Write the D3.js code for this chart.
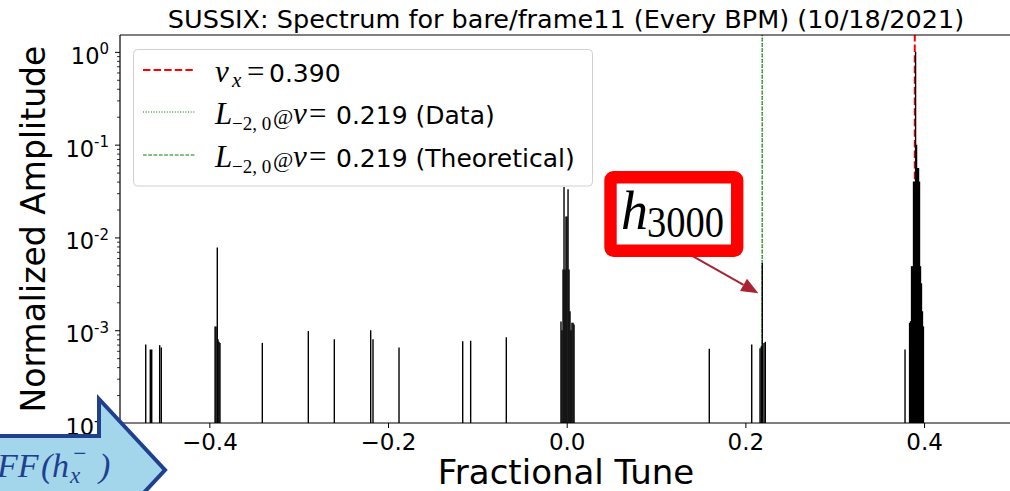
<!DOCTYPE html>
<html><head><meta charset="utf-8">
<script src="https://cdn.jsdelivr.net/npm/d3@7"></script>
<style>body{margin:0;background:#fff;} svg{display:block;}</style>
</head><body>
<svg id="c" width="1010" height="491"></svg>
<script>
// ---------- data ----------
const titleText = "SUSSIX: Spectrum for bare/frame11 (Every BPM) (10/18/2021)";
const xLabelText = "Fractional Tune";
const yLabelText = "Normalized Amplitude";
const xTicks = [-0.4, -0.2, 0.0, 0.2, 0.4];
const yTickExps = [0, -1, -2, -3, -4];

const spectrumTune = [
  -0.4712, -0.4661, -0.4645, -0.4556, -0.4538,
  -0.3936, -0.3925, -0.3911, -0.3903, -0.3892, -0.3881,
  -0.3407, -0.2892, -0.2601, -0.2194, -0.2168, -0.1877, -0.1164, -0.1075, -0.0676,
  -0.0064, -0.0053, -0.0041, -0.0030, -0.0019, -0.0008, 0.0003, 0.0015, 0.0026, 0.0037, 0.0048, 0.0059, 0.0071, 0.0082,
  0.1596, 0.2071, 0.2164, 0.2178, 0.2189, 0.2208, 0.2223,
  0.3787,
  0.3838, 0.3849, 0.3860, 0.3871, 0.3882, 0.3893, 0.3905, 0.3916, 0.3927, 0.3938, 0.3949, 0.3960, 0.3971, 0.3982, 0.3993
];
const spectrumAmp = [
  7.0e-4, 6.2e-4, 6.2e-4, 6.9e-4, 6.5e-4,
  1.1e-3, 1.1e-3, 7.8e-3, 8.0e-4, 7.5e-4, 7.3e-4,
  7.3e-4, 9.8e-4, 8.0e-4, 1.0e-3, 8.0e-4, 6.5e-4, 7.6e-4, 7.7e-4, 8.4e-4,
  1.24e-3, 1.0e-3, 4.5e-3, 0.035, 4.5e-3, 0.0168, 0.0168, 0.033, 4.5e-3, 1.6e-3, 1.0e-3, 1.2e-3, 1.2e-3, 1.15e-3,
  6.3e-4, 7.0e-4, 6.4e-4, 6.7e-4, 5.3e-3, 7.3e-4, 7.5e-4,
  6.2e-4,
  1.2e-3, 1.25e-3, 4.9e-3, 4.9e-3, 0.040, 0.040, 1.0, 0.10, 0.056, 0.056, 0.040, 4.9e-3, 3.2e-3, 1.6e-3, 1.1e-3
];
const tuneX = 0.3896;   // nu_x
const tuneL = 0.2188;   // L_{-2,0}
const annotTip = {tune: 0.2145, amp: 2.5e-3};

// ---------- layout ----------
const svg = d3.select("#c");
svg.append("rect").attr("width", 1010).attr("height", 491).attr("fill", "#fff");
const x = d3.scaleLinear().domain([-0.5, 0.5]).range([120, 1013.4]);
const y = d3.scaleLog().domain([1e-4, 1.52]).range([423, 35]);
const SANS = "DejaVu Sans, sans-serif";
const SERIF = "Liberation Serif, DejaVu Serif, serif";

// reference vertical lines (under spectrum)
svg.append("line").attr("x1", x(tuneX)).attr("x2", x(tuneX)).attr("y1", 423).attr("y2", 35)
  .attr("stroke", "#ff0000").attr("stroke-width", 2).attr("stroke-dasharray", "7.4,3.2");
svg.append("line").attr("x1", x(tuneL)).attr("x2", x(tuneL)).attr("y1", 423).attr("y2", 35)
  .attr("stroke", "#008000").attr("stroke-width", 1).attr("stroke-dasharray", "1,1.65");
svg.append("line").attr("x1", x(tuneL)).attr("x2", x(tuneL)).attr("y1", 423).attr("y2", 35)
  .attr("stroke", "#008000").attr("stroke-width", 1).attr("stroke-dasharray", "3.7,1.6");

// spectrum
svg.append("g").selectAll("line").data(spectrumTune).join("line")
  .attr("x1", d => x(d)).attr("x2", d => x(d))
  .attr("y1", y(1e-4)).attr("y2", (d, i) => y(spectrumAmp[i]))
  .attr("stroke", "#000").attr("stroke-width", 1.4);

// x axis
const xAxis = svg.append("g").attr("transform", "translate(0,423)")
  .call(d3.axisBottom(x).tickValues(xTicks).tickSize(5).tickPadding(6).tickFormat(d3.format(".1f")));
xAxis.select(".domain").remove();
xAxis.selectAll("text").attr("font-family", SANS).attr("font-size", 23).attr("fill", "#000");
xAxis.selectAll("line").attr("stroke", "#000").attr("stroke-width", 1);

// y axis major
const yMaj = yTickExps.map(e => Math.pow(10, e));
const yAxis = svg.append("g").attr("transform", "translate(120,0)")
  .call(d3.axisLeft(y).tickValues(yMaj).tickSize(5).tickFormat(""));
yAxis.select(".domain").remove();
yAxis.selectAll("line").attr("stroke", "#000").attr("stroke-width", 1);
yAxis.selectAll(".tick").each(function(d) {
  const e = Math.round(Math.log10(d));
  const t = d3.select(this).append("text").attr("x", -11).attr("y", 11.5)
    .attr("text-anchor", "end").attr("fill", "#000").attr("font-family", SANS);
  t.append("tspan").attr("font-size", 22.5).text("10");
  t.append("tspan").attr("font-size", 15).attr("dy", -9.5).text(String(e));
});
// y axis minor
const yMin = [];
for (let e = -4; e <= 0; e++) for (let k = 2; k <= 9; k++) { const v = k * Math.pow(10, e); if (v <= 1.52) yMin.push(v); }
const yMinAx = svg.append("g").attr("transform", "translate(120,0)")
  .call(d3.axisLeft(y).tickValues(yMin).tickSize(3).tickFormat(""));
yMinAx.select(".domain").remove();
yMinAx.selectAll("line").attr("stroke", "#000").attr("stroke-width", 0.8);

// spines
svg.append("line").attr("x1", 120).attr("x2", 120).attr("y1", 35).attr("y2", 423).attr("stroke", "#000").attr("stroke-width", 1.2);
svg.append("line").attr("x1", 120).attr("x2", 1013.4).attr("y1", 35).attr("y2", 35).attr("stroke", "#000").attr("stroke-width", 1.2);
svg.append("line").attr("x1", 120).attr("x2", 1013.4).attr("y1", 423).attr("y2", 423).attr("stroke", "#000").attr("stroke-width", 1.2);

// title & labels
svg.append("text").attr("x", 566).attr("y", 28).attr("text-anchor", "middle")
  .attr("font-family", SANS).attr("font-size", 25.5).text(titleText);
svg.append("text").attr("x", 566).attr("y", 484).attr("text-anchor", "middle")
  .attr("font-family", SANS).attr("font-size", 34).text(xLabelText);
svg.append("text").attr("transform", "translate(45,229) rotate(-90)").attr("text-anchor", "middle")
  .attr("font-family", SANS).attr("font-size", 33).text(yLabelText);

// legend
const lg = svg.append("g");
lg.append("rect").attr("x", 133.5).attr("y", 49.5).attr("width", 459).attr("height", 136.5).attr("rx", 4)
  .attr("fill", "#fff").attr("fill-opacity", 0.8).attr("stroke", "#d0d0d0").attr("stroke-width", 1);
const rows = [
  {y: 70, color: "#ff0000", w: 2, dash: "7.4,3.2", sym: "ν", sub: "x", at: false, val: tuneX.toFixed(3), tail: ""},
  {y: 112, color: "#008000", w: 1, dash: "1,1.65", sym: "L", sub: "−2, 0", at: true, val: tuneL.toFixed(3), tail: " (Data)"},
  {y: 155, color: "#008000", w: 1, dash: "3.7,1.6", sym: "L", sub: "−2, 0", at: true, val: tuneL.toFixed(3), tail: " (Theoretical)"}
];
rows.forEach(r => {
  lg.append("line").attr("x1", 143).attr("x2", 195).attr("y1", r.y).attr("y2", r.y)
    .attr("stroke", r.color).attr("stroke-width", r.w).attr("stroke-dasharray", r.dash);
  const by = r.y + 11.5;
  const t = lg.append("text").attr("y", by).attr("fill", "#000");
  t.append("tspan").attr("x", 215).attr("font-family", SERIF).attr("font-style", "italic").attr("font-size", 31).text(r.sym);
  if (r.at) {
    t.append("tspan").attr("x", 232).attr("y", by + 6).attr("font-family", SERIF).attr("font-size", 19).text(r.sub);
    t.append("tspan").attr("x", 273).attr("y", by).attr("font-family", SERIF).attr("font-size", 22).text("@");
    t.append("tspan").attr("x", 293).attr("font-family", SERIF).attr("font-style", "italic").attr("font-size", 31).text("ν");
    t.append("tspan").attr("x", 309).attr("font-family", SERIF).attr("font-size", 31).text("=");
    t.append("tspan").attr("x", 336).attr("font-family", SANS).attr("font-size", 25).text(r.val + r.tail);
  } else {
    t.append("tspan").attr("x", 232).attr("y", by + 5).attr("font-family", SERIF).attr("font-style", "italic").attr("font-size", 21).text(r.sub);
    t.append("tspan").attr("x", 247).attr("y", by).attr("font-family", SERIF).attr("font-size", 31).text("=");
    t.append("tspan").attr("x", 269).attr("font-family", SANS).attr("font-size", 25).text(r.val + r.tail);
  }
});

// h3000 annotation
const tipX = x(annotTip.tune), tipY = y(annotTip.amp);
const ax0 = 673, ay0 = 245;
const ang = Math.atan2(tipY - ay0, tipX - ax0);
const hl = 17, hw = 7;
const bx = tipX - hl * Math.cos(ang), by = tipY - hl * Math.sin(ang);
svg.append("line").attr("x1", ax0).attr("y1", ay0).attr("x2", bx).attr("y2", by)
  .attr("stroke", "#a82432").attr("stroke-width", 2);
svg.append("polygon").attr("fill", "#a82432")
  .attr("points", [[tipX, tipY], [bx + hw * Math.sin(ang), by - hw * Math.cos(ang)], [bx - hw * Math.sin(ang), by + hw * Math.cos(ang)]].map(p => p.join(",")).join(" "));
svg.append("rect").attr("x", 610.5).attr("y", 177.2).attr("width", 126.7).attr("height", 73.6).attr("rx", 3)
  .attr("fill", "#fff").attr("stroke", "#ff0000").attr("stroke-width", 12.4);
const ht = svg.append("text").attr("x", 621).attr("y", 229).attr("font-family", SERIF).attr("fill", "#000");
ht.append("tspan").attr("font-style", "italic").attr("font-size", 54).text("h");
svg.append("text").attr("x", 647).attr("y", 237).attr("font-family", SERIF).attr("font-size", 44)
  .attr("textLength", 77).attr("lengthAdjust", "spacingAndGlyphs").text("3000");

// slide overlay arrow (bottom-left)
svg.append("polygon")
  .attr("points", "-10,436 99,436 99,399 165,470 99,541 99,504 -10,504")
  .attr("fill", "#a3d6ea").attr("stroke", "#1f3f8f").attr("stroke-width", 4).attr("stroke-linejoin", "miter");
const ft = svg.append("text").attr("y", 477).attr("font-family", "Liberation Serif, serif")
  .attr("font-style", "italic").attr("font-size", 34).attr("fill", "#1f3f8f");
ft.append("tspan").attr("x", -3).text("FF");
ft.append("tspan").attr("x", 41).text("(");
ft.append("tspan").attr("x", 52).text("h");
ft.append("tspan").attr("x", 70).attr("y", 483).attr("font-size", 23).text("x");
ft.append("tspan").attr("x", 72).attr("y", 461).attr("font-size", 23).text("−");
ft.append("tspan").attr("x", 99).attr("y", 477).text(")");
</script>
</body></html>
